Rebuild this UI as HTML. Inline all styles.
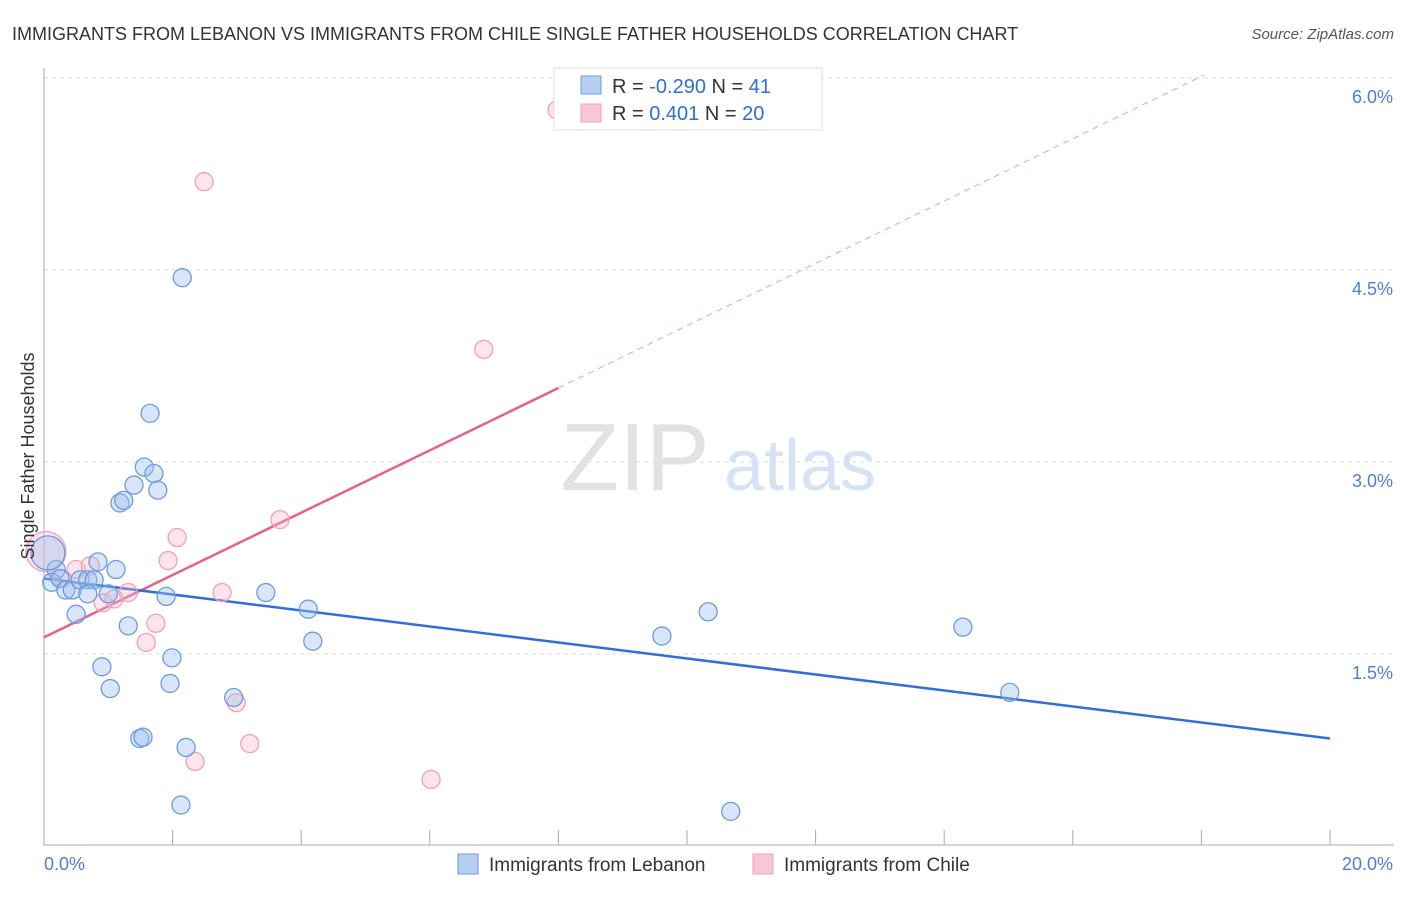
<!DOCTYPE html>
<html><head><meta charset="utf-8"><style>
body{margin:0;background:#fff;font-family:"Liberation Sans",sans-serif}
svg text{font-family:"Liberation Sans",sans-serif}
</style></head><body>
<svg id="c" width="1406" height="892" xmlns="http://www.w3.org/2000/svg">
<text x="12" y="40" font-size="18" fill="#333">IMMIGRANTS FROM LEBANON VS IMMIGRANTS FROM CHILE SINGLE FATHER HOUSEHOLDS CORRELATION CHART</text>
<text x="1394" y="39" font-size="15" fill="#555" font-style="italic" text-anchor="end">Source: ZipAtlas.com</text>
<text x="635" y="490" font-size="96" fill="#e2e2e2" font-family="Liberation Serif" text-anchor="middle">ZIP</text>
<text x="800" y="490" font-size="72" fill="#d5e3f5" text-anchor="middle">atlas</text>
<g id="grid"></g>
<g id="axes"></g>
<g id="lines"></g>
<g id="pts"></g>
<text transform="translate(34,456) rotate(-90)" font-size="18" fill="#333" text-anchor="middle">Single Father Households</text>
<g>
<rect x="554" y="68" width="268" height="62" fill="#fff" stroke="#ddd"/>
<rect x="581" y="76" width="20" height="18" fill="#b7d0f2" stroke="#6c9be0"/>
<rect x="581" y="104" width="20" height="18" fill="#f8c6d4" stroke="#f0a0b8"/>
<text x="612" y="93" font-size="20" fill="#333">R = <tspan fill="#2f6fd0">-0.290</tspan>   N = <tspan fill="#2f6fd0"> 41</tspan></text>
<text x="612" y="120" font-size="20" fill="#333">R =   <tspan fill="#2f6fd0">0.401</tspan>   N = <tspan fill="#2f6fd0">20</tspan></text>
</g>
<g>
<rect x="458" y="854" width="20" height="20" fill="#b7d0f2" stroke="#6c9be0"/>
<text x="489" y="871" font-size="19" fill="#333">Immigrants from Lebanon</text>
<rect x="753" y="854" width="20" height="20" fill="#f8c6d4" stroke="#f0a0b8"/>
<text x="784" y="871" font-size="19" fill="#333">Immigrants from Chile</text>
</g>
</svg>
<script>
const yTicks=[1.5,3.0,4.5,6.0];
const yTickLabels=["1.5%","3.0%","4.5%","6.0%"];
const xTickLabels=["0.0%","20.0%"];
const lebX=[0.19,0.12,0.25,0.34,0.44,0.56,0.68,0.78,0.84,1.12,0.68,1.00,0.50,1.31,0.90,1.03,1.49,1.54,1.99,1.96,2.21,2.13,1.90,1.18,1.24,1.40,1.56,1.71,1.77,1.65,2.15,2.95,3.45,4.11,4.18,9.61,10.33,10.68,14.29,15.02,0.06];
const lebY=[2.16,2.06,2.09,2.00,2.00,2.08,2.08,2.08,2.22,2.16,1.97,1.97,1.81,1.72,1.40,1.23,0.84,0.85,1.47,1.27,0.77,0.32,1.95,2.68,2.70,2.82,2.96,2.91,2.78,3.38,4.44,1.16,1.98,1.85,1.60,1.64,1.83,0.27,1.71,1.20,2.29];
const chiX=[0.03,0.50,0.72,0.92,1.09,1.31,1.59,1.74,1.93,2.07,2.77,2.99,3.20,2.35,2.49,3.67,6.02,6.84,7.98,0.28];
const chiY=[2.30,2.16,2.19,1.90,1.93,1.98,1.59,1.74,2.23,2.41,1.98,1.12,0.80,0.66,5.19,2.55,0.52,3.88,5.75,2.09];
const lebLine=[2.09,0.84];
const chiLine=[1.63,6.5];
const X0=44,X1=1330,YB=846,TOP=68;
const xs=v=>X0+v/20*(X1-X0);
const ys=v=>YB-v/1.5*192;
const NS="http://www.w3.org/2000/svg";
function mk(t,a,p){const e=document.createElementNS(NS,t);for(const k in a)e.setAttribute(k,a[k]);p.appendChild(e);return e;}
const grid=document.getElementById('grid'),axes=document.getElementById('axes'),lines=document.getElementById('lines'),pts=document.getElementById('pts');
yTicks.forEach((t,i)=>{
 const l=mk('line',{x1:X0,x2:1394,y1:ys(t),y2:ys(t),stroke:'#ddd','stroke-dasharray':'4,4'},grid);
 
 
 const tx=mk('text',{x:1393,y:ys(t)+25,'font-size':18,fill:'#4a7fd6','text-anchor':'end'},grid);
 tx.textContent=yTickLabels[i];
 
 
});
mk('line',{x1:X0,x2:X0,y1:TOP,y2:YB,stroke:'#aaa'},axes);
mk('line',{x1:X0,x2:1394,y1:845,y2:845,stroke:'#aaa'},axes);
for(let i=0;i<=10;i++){const x=xs(i*2);const tk=mk('line',{x1:x,x2:x,y1:830,y2:845,stroke:'#aaa'},axes);
 
 }
const xl0=mk('text',{x:44,y:870,'font-size':18,fill:'#4a7fd6'},axes);xl0.textContent=xTickLabels[0];


const xl1=mk('text',{x:1393,y:870,'font-size':18,fill:'#4a7fd6','text-anchor':'end'},axes);xl1.textContent=xTickLabels[1];


// chile trend
const cy=v=>chiLine[0]+(chiLine[1]-chiLine[0])*v/20;
const solidEnd=8.0;
const ps=mk('line',{x1:xs(0),y1:ys(cy(0)),x2:xs(solidEnd),y2:ys(cy(solidEnd)),stroke:'#e8608a','stroke-width':2.5},lines);


const ymaxv=(YB-75)/192*1.5;const xe=(ymaxv-chiLine[0])/(chiLine[1]-chiLine[0])*20;
const pd=mk('line',{x1:xs(solidEnd),y1:ys(cy(solidEnd)),x2:xs(Math.min(20,xe)),y2:ys(cy(Math.min(20,xe))),stroke:'#eeaabf','stroke-width':1.2,'stroke-dasharray':'6,5'},lines);


const bl=mk('line',{x1:xs(0),y1:ys(lebLine[0]),x2:xs(20),y2:ys(lebLine[1]),stroke:'#2f6fd6','stroke-width':2.5},lines);


chiX.forEach((x,i)=>{const c=mk('circle',{cx:xs(x),cy:ys(chiY[i]),r:i==0?20:9,fill:'rgba(246,180,200,0.35)',stroke:'#f0a0b8','stroke-width':1.3},pts);
 
 });
lebX.forEach((x,i)=>{const c=mk('circle',{cx:xs(x),cy:ys(lebY[i]),r:i==40?17:9,fill:'rgba(160,192,238,0.4)',stroke:'#6c9be0','stroke-width':1.3},pts);
 
 });
</script>
</body></html>
